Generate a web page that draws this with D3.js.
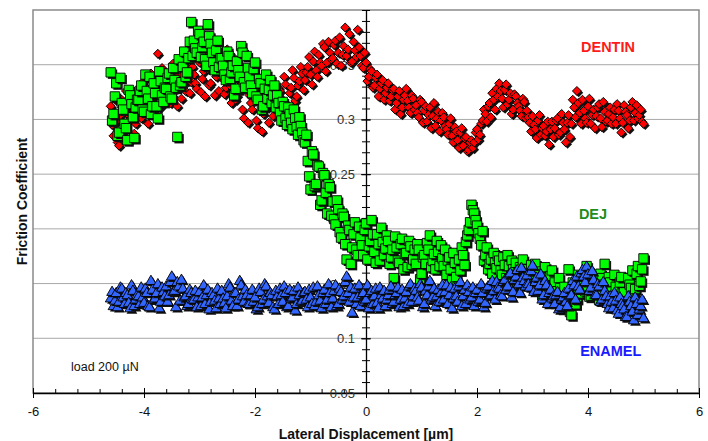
<!DOCTYPE html>
<html>
<head>
<meta charset="utf-8">
<script src="https://cdn.jsdelivr.net/npm/d3@7"></script>
<style>
  html, body { margin: 0; padding: 0; background: #fff; }
  svg { display: block; font-family: "Liberation Sans", Arial, sans-serif; }
</style>
</head>
<body>
<svg id="chart" width="708" height="441"></svg>
<script>
// ---------- data ----------
// scan A positions
const displacement = [
-4.60,-4.55,-4.50,-4.45,-4.40,-4.35,-4.30,-4.25,-4.20,-4.15,
-4.10,-4.05,-4.00,-3.95,-3.90,-3.85,-3.80,-3.75,-3.70,-3.65,
-3.60,-3.55,-3.50,-3.45,-3.40,-3.35,-3.30,-3.25,-3.20,-3.15,
-3.10,-3.05,-3.00,-2.95,-2.90,-2.85,-2.80,-2.75,-2.70,-2.65,
-2.60,-2.55,-2.50,-2.45,-2.40,-2.35,-2.30,-2.25,-2.20,-2.15,
-2.10,-2.05,-2.00,-1.95,-1.90,-1.85,-1.80,-1.75,-1.70,-1.65,
-1.60,-1.55,-1.50,-1.45,-1.40,-1.35,-1.30,-1.25,-1.20,-1.15,
-1.10,-1.05,-1.00,-0.95,-0.90,-0.85,-0.80,-0.75,-0.70,-0.65,
-0.60,-0.55,-0.50,-0.45,-0.40,-0.35,-0.30,-0.25,-0.20,-0.15,
-0.10,-0.05,0.00,0.05,0.10,0.15,0.20,0.25,0.30,0.35,
0.40,0.45,0.50,0.55,0.60,0.65,0.70,0.75,0.80,0.85,
0.90,0.95,1.00,1.05,1.10,1.15,1.20,1.25,1.30,1.35,
1.40,1.45,1.50,1.55,1.60,1.65,1.70,1.75,1.80,1.85,
1.90,1.95,2.00,2.05,2.10,2.15,2.20,2.25,2.30,2.35,
2.40,2.45,2.50,2.55,2.60,2.65,2.70,2.75,2.80,2.85,
2.90,2.95,3.00,3.05,3.10,3.15,3.20,3.25,3.30,3.35,
3.40,3.45,3.50,3.55,3.60,3.65,3.70,3.75,3.80,3.85,
3.90,3.95,4.00,4.05,4.10,4.15,4.20,4.25,4.30,4.35,
4.40,4.45,4.50,4.55,4.60,4.65,4.70,4.75,4.80,4.85,
4.90,4.95,5.00];

// scan B positions
const displacementB = [
-4.575,-4.525,-4.475,-4.425,-4.375,-4.325,-4.275,-4.225,-4.175,-4.125,
-4.075,-4.025,-3.975,-3.925,-3.875,-3.825,-3.775,-3.725,-3.675,-3.625,
-3.575,-3.525,-3.475,-3.425,-3.375,-3.325,-3.275,-3.225,-3.175,-3.125,
-3.075,-3.025,-2.975,-2.925,-2.875,-2.825,-2.775,-2.725,-2.675,-2.625,
-2.575,-2.525,-2.475,-2.425,-2.375,-2.325,-2.275,-2.225,-2.175,-2.125,
-2.075,-2.025,-1.975,-1.925,-1.875,-1.825,-1.775,-1.725,-1.675,-1.625,
-1.575,-1.525,-1.475,-1.425,-1.375,-1.325,-1.275,-1.225,-1.175,-1.125,
-1.075,-1.025,-0.975,-0.925,-0.875,-0.825,-0.775,-0.725,-0.675,-0.625,
-0.575,-0.525,-0.475,-0.425,-0.375,-0.325,-0.275,-0.225,-0.175,-0.125,
-0.075,-0.025,0.025,0.075,0.125,0.175,0.225,0.275,0.325,0.375,
0.425,0.475,0.525,0.575,0.625,0.675,0.725,0.775,0.825,0.875,
0.925,0.975,1.025,1.075,1.125,1.175,1.225,1.275,1.325,1.375,
1.425,1.475,1.525,1.575,1.625,1.675,1.725,1.775,1.825,1.875,
1.925,1.975,2.025,2.075,2.125,2.175,2.225,2.275,2.325,2.375,
2.425,2.475,2.525,2.575,2.625,2.675,2.725,2.775,2.825,2.875,
2.925,2.975,3.025,3.075,3.125,3.175,3.225,3.275,3.325,3.375,
3.425,3.475,3.525,3.575,3.625,3.675,3.725,3.775,3.825,3.875,
3.925,3.975,4.025,4.075,4.125,4.175,4.225,4.275,4.325,4.375,
4.425,4.475,4.525,4.575,4.625,4.675,4.725,4.775,4.825,4.875,
4.925,4.975];

const dentin = [
0.312,0.285,0.298,0.276,0.318,0.292,0.305,0.281,0.309,0.296,
0.322,0.301,0.331,0.309,0.318,0.338,0.305,0.360,0.312,0.327,
0.318,0.336,0.322,0.344,0.312,0.331,0.349,0.326,0.365,0.334,
0.341,0.328,0.352,0.337,0.321,0.346,0.333,0.355,0.339,0.326,
0.338,0.323,0.364,0.331,0.345,0.318,0.336,0.327,0.301,0.334,
0.322,0.309,0.327,0.292,0.318,0.305,0.331,0.297,0.314,0.324,
0.311,0.326,0.318,0.332,0.308,0.329,0.338,0.321,0.335,0.342,
0.336,0.348,0.341,0.353,0.345,0.359,0.349,0.366,0.352,0.361,
0.356,0.372,0.361,0.349,0.367,0.358,0.378,0.353,0.363,0.382,
0.358,0.347,0.352,0.339,0.344,0.331,0.341,0.328,0.336,0.324,
0.333,0.321,0.328,0.315,0.326,0.311,0.322,0.317,0.306,0.319,
0.313,0.302,0.316,0.308,0.298,0.311,0.303,0.294,0.307,0.299,
0.302,0.291,0.296,0.285,0.293,0.281,0.288,0.276,0.284,0.272,
0.281,0.279,0.291,0.286,0.299,0.305,0.312,0.302,0.318,0.328,
0.333,0.319,0.327,0.314,0.324,0.309,0.321,0.312,0.303,0.316,
0.308,0.297,0.303,0.291,0.299,0.286,0.294,0.289,0.277,0.298,
0.292,0.301,0.288,0.297,0.279,0.304,0.296,0.311,0.326,0.306,
0.318,0.301,0.312,0.296,0.309,0.303,0.314,0.293,0.307,0.299,
0.311,0.302,0.296,0.308,0.288,0.313,0.304,0.299,0.316,0.306,
0.301,0.309,0.296];

const dentinB = [
0.295,0.318,0.279,0.304,0.289,0.326,0.299,0.314,0.287,0.321,
0.307,0.334,0.315,0.296,0.342,0.321,0.329,0.311,0.347,0.319,
0.339,0.315,0.351,0.328,0.341,0.319,0.357,0.335,0.324,0.348,
0.333,0.359,0.325,0.344,0.362,0.331,0.349,0.322,0.357,0.343,
0.352,0.329,0.343,0.315,0.356,0.322,0.347,0.309,0.338,0.297,
0.315,0.331,0.299,0.321,0.289,0.326,0.311,0.334,0.303,0.319,
0.329,0.305,0.339,0.314,0.324,0.345,0.317,0.331,0.348,0.327,
0.343,0.357,0.332,0.362,0.339,0.352,0.369,0.344,0.371,0.355,
0.368,0.351,0.375,0.359,0.384,0.364,0.352,0.371,0.357,0.366,
0.349,0.361,0.335,0.346,0.329,0.338,0.321,0.333,0.318,0.329,
0.317,0.327,0.309,0.321,0.305,0.318,0.328,0.311,0.322,0.309,
0.306,0.318,0.297,0.312,0.304,0.292,0.315,0.301,0.289,0.306,
0.294,0.286,0.301,0.279,0.289,0.274,0.292,0.283,0.271,0.279,
0.274,0.288,0.282,0.296,0.309,0.298,0.315,0.324,0.309,0.321,
0.326,0.311,0.332,0.318,0.305,0.323,0.315,0.308,0.319,0.301,
0.302,0.289,0.295,0.283,0.304,0.292,0.285,0.298,0.291,0.284,
0.299,0.286,0.305,0.291,0.297,0.284,0.318,0.302,0.315,0.296,
0.308,0.297,0.319,0.304,0.292,0.311,0.301,0.316,0.298,0.305,
0.296,0.309,0.314,0.301,0.297,0.307,0.292,0.311,0.299,0.313,
0.304,0.298];

const dej = [
0.343,0.305,0.333,0.288,0.315,0.296,0.281,0.322,0.302,0.311,
0.318,0.331,0.307,0.326,0.339,0.312,0.324,0.301,0.335,0.316,
0.328,0.342,0.319,0.336,0.284,0.331,0.348,0.339,0.356,0.389,
0.372,0.361,0.378,0.366,0.355,0.387,0.369,0.352,0.363,0.348,
0.356,0.341,0.362,0.337,0.349,0.328,0.345,0.367,0.334,0.358,
0.339,0.324,0.352,0.318,0.333,0.312,0.341,0.327,0.315,0.331,
0.322,0.306,0.316,0.301,0.311,0.297,0.309,0.293,0.302,0.288,
0.279,0.262,0.236,0.268,0.241,0.257,0.226,0.249,0.214,0.238,
0.225,0.204,0.218,0.192,0.211,0.172,0.199,0.183,0.206,0.176,
0.192,0.176,0.205,0.184,0.208,0.179,0.195,0.171,0.188,0.182,
0.189,0.174,0.155,0.183,0.169,0.191,0.177,0.165,0.184,0.172,
0.168,0.181,0.159,0.176,0.187,0.194,0.171,0.163,0.179,0.185,
0.166,0.158,0.174,0.153,0.169,0.147,0.162,0.176,0.188,0.199,
0.222,0.214,0.203,0.191,0.198,0.176,0.163,0.172,0.178,0.164,
0.171,0.158,0.167,0.176,0.154,0.163,0.169,0.151,0.161,0.157,
0.163,0.149,0.156,0.168,0.144,0.152,0.159,0.141,0.148,0.162,
0.151,0.138,0.146,0.133,0.129,0.163,0.121,0.142,0.136,0.148,
0.157,0.143,0.161,0.139,0.152,0.146,0.135,0.155,0.168,0.144,
0.151,0.138,0.147,0.131,0.156,0.142,0.134,0.149,0.162,0.145,
0.166,0.152,0.173];

const dejB = [
0.299,0.321,0.285,0.338,0.309,0.292,0.327,0.314,0.283,0.318,
0.326,0.309,0.341,0.319,0.305,0.333,0.312,0.344,0.322,0.329,
0.338,0.321,0.347,0.329,0.355,0.334,0.362,0.343,0.371,0.358,
0.365,0.381,0.357,0.371,0.349,0.376,0.361,0.345,0.372,0.356,
0.349,0.336,0.358,0.343,0.322,0.353,0.339,0.361,0.329,0.347,
0.331,0.346,0.321,0.337,0.309,0.328,0.319,0.336,0.322,0.311,
0.315,0.299,0.312,0.295,0.305,0.291,0.301,0.286,0.294,0.281,
0.286,0.248,0.271,0.239,0.258,0.222,0.251,0.233,0.241,0.212,
0.209,0.226,0.197,0.214,0.186,0.203,0.168,0.195,0.181,0.202,
0.185,0.199,0.172,0.189,0.195,0.169,0.186,0.201,0.176,0.194,
0.168,0.181,0.193,0.171,0.186,0.163,0.178,0.189,0.167,0.181,
0.186,0.154,0.174,0.168,0.181,0.165,0.177,0.189,0.166,0.173,
0.181,0.171,0.163,0.178,0.156,0.172,0.183,0.167,0.194,0.206,
0.217,0.208,0.196,0.185,0.171,0.183,0.168,0.159,0.169,0.175,
0.162,0.174,0.155,0.166,0.171,0.158,0.149,0.165,0.172,0.153,
0.158,0.167,0.145,0.161,0.153,0.139,0.165,0.151,0.157,0.146,
0.143,0.155,0.127,0.147,0.139,0.124,0.151,0.131,0.158,0.141,
0.149,0.166,0.138,0.155,0.147,0.141,0.159,0.149,0.137,0.156,
0.143,0.158,0.136,0.151,0.141,0.133,0.155,0.146,0.139,0.159,
0.148,0.163];

const enamel = [
0.136,0.129,0.141,0.133,0.145,0.131,0.139,0.127,0.143,0.135,
0.138,0.146,0.132,0.141,0.128,0.144,0.136,0.149,0.133,0.142,
0.147,0.139,0.156,0.143,0.151,0.134,0.145,0.138,0.131,0.141,
0.135,0.128,0.142,0.137,0.131,0.144,0.133,0.139,0.127,0.136,
0.143,0.132,0.138,0.146,0.129,0.141,0.135,0.148,0.133,0.139,
0.131,0.144,0.137,0.128,0.142,0.135,0.147,0.132,0.139,0.126,
0.138,0.145,0.133,0.141,0.129,0.136,0.143,0.131,0.139,0.134,
0.142,0.128,0.137,0.146,0.133,0.139,0.127,0.144,0.135,0.141,
0.136,0.148,0.131,0.142,0.138,0.156,0.133,0.123,0.145,0.137,
0.129,0.141,0.135,0.127,0.143,0.138,0.132,0.146,0.136,0.129,
0.139,0.147,0.133,0.141,0.128,0.144,0.136,0.131,0.149,0.138,
0.143,0.134,0.146,0.131,0.139,0.152,0.137,0.129,0.144,0.141,
0.135,0.148,0.139,0.127,0.145,0.133,0.151,0.138,0.131,0.142,
0.137,0.129,0.144,0.135,0.141,0.132,0.147,0.139,0.143,0.151,
0.145,0.138,0.153,0.147,0.159,0.142,0.156,0.149,0.164,0.152,
0.157,0.146,0.166,0.151,0.143,0.158,0.139,0.148,0.141,0.136,
0.131,0.142,0.128,0.137,0.133,0.145,0.139,0.148,0.156,0.144,
0.162,0.151,0.158,0.146,0.153,0.139,0.147,0.135,0.143,0.131,
0.138,0.127,0.134,0.122,0.131,0.126,0.119,0.133,0.124,0.137,
0.121,0.129,0.118];

const enamelB = [
0.142,0.134,0.128,0.146,0.137,0.141,0.132,0.148,0.129,0.139,
0.131,0.137,0.145,0.129,0.152,0.135,0.141,0.127,0.146,0.138,
0.133,0.151,0.142,0.128,0.147,0.153,0.137,0.129,0.144,0.135,
0.143,0.137,0.129,0.148,0.139,0.126,0.141,0.134,0.145,0.131,
0.136,0.127,0.149,0.134,0.141,0.129,0.152,0.138,0.144,0.131,
0.139,0.133,0.126,0.145,0.131,0.149,0.138,0.141,0.128,0.143,
0.131,0.139,0.147,0.128,0.144,0.137,0.125,0.146,0.133,0.141,
0.135,0.144,0.131,0.129,0.147,0.134,0.141,0.131,0.149,0.128,
0.143,0.129,0.145,0.135,0.151,0.141,0.146,0.137,0.131,0.148,
0.139,0.133,0.148,0.141,0.131,0.145,0.127,0.139,0.143,0.135,
0.144,0.131,0.139,0.146,0.135,0.129,0.142,0.147,0.133,0.145,
0.137,0.149,0.128,0.143,0.147,0.135,0.145,0.138,0.133,0.148,
0.142,0.131,0.146,0.136,0.138,0.147,0.129,0.144,0.148,0.135,
0.146,0.141,0.133,0.149,0.128,0.145,0.138,0.152,0.135,0.146,
0.139,0.151,0.144,0.158,0.137,0.153,0.162,0.141,0.155,0.147,
0.149,0.161,0.142,0.155,0.148,0.135,0.152,0.131,0.144,0.138,
0.139,0.126,0.135,0.141,0.129,0.138,0.152,0.135,0.147,0.159,
0.156,0.165,0.143,0.161,0.139,0.149,0.133,0.151,0.138,0.127,
0.133,0.141,0.125,0.137,0.129,0.119,0.138,0.129,0.116,0.131,
0.126,0.135];

const xMajorTicks = [-6,-4,-2,0,2,4,6];
const yMajorTicks = [0.05,0.1,0.15,0.2,0.25,0.3,0.35];
const gridValues = [0.1,0.15,0.2,0.25,0.3,0.35];

const seriesNames = ["DENTIN","DEJ","ENAMEL"];
const seriesColors = ["#ff0000","#00ff00","#3366ff"];
const labelColors = ["#ff1a1a","#1e8c1e","#1a1aff"];
const labelPositions = [[4.36,0.366],[4.09,0.2135],[4.41,0.0885]]; // data coords of series labels

// ---------- layout ----------
const svg = d3.select("#chart");
const L = 33, R = 699, T = 10, B = 393;
const x = d3.scaleLinear().domain([-6, 6]).range([L, R]);
const y = d3.scaleLinear().domain([0.05, 0.40]).range([B, T]);

// gridlines
svg.append("g").selectAll("line").data(gridValues).join("line")
  .attr("x1", L).attr("x2", R)
  .attr("y1", d => y(d)).attr("y2", d => y(d))
  .attr("stroke", "#a8a8a8").attr("stroke-width", 1);

// frame
svg.append("rect").attr("x", L).attr("y", T).attr("width", R - L).attr("height", B - T)
  .attr("fill", "none").attr("stroke", "#8a8a8a").attr("stroke-width", 1.5);

// x axis minor ticks
const xMinor = d3.range(-6, 6.0001, 0.4).map(v => +v.toFixed(2));
const xMinorAxis = svg.append("g").attr("transform", `translate(0,${B})`)
  .call(d3.axisBottom(x).tickValues(xMinor).tickFormat("").tickSizeOuter(0));
xMinorAxis.select(".domain").remove();
xMinorAxis.selectAll(".tick line").attr("y1", 0).attr("y2", -4).attr("stroke", "#000");

// x axis major
const xAxis = svg.append("g").attr("transform", `translate(0,${B})`)
  .call(d3.axisBottom(x).tickValues(xMajorTicks).tickFormat(d => String(d)).tickSizeOuter(0));
xAxis.select(".domain").attr("stroke", "#000").attr("stroke-width", 1.3);
xAxis.selectAll(".tick line").attr("y1", -5).attr("y2", 5).attr("stroke", "#000");
xAxis.selectAll(".tick text").attr("y", 18).attr("dy", "0.35em")
  .attr("font-size", 13).attr("fill", "#111").attr("font-family", "Liberation Sans, Arial, sans-serif");

// y axis (at x = 0) minor ticks
const yMinor = d3.range(0.05, 0.4001, 0.01).map(v => +v.toFixed(2));
const yMinorAxis = svg.append("g").attr("transform", `translate(${x(0)},0)`)
  .call(d3.axisLeft(y).tickValues(yMinor).tickFormat("").tickSizeOuter(0));
yMinorAxis.select(".domain").remove();
yMinorAxis.selectAll(".tick line").attr("x1", -4).attr("x2", 4).attr("stroke", "#000");

const yAxis = svg.append("g").attr("transform", `translate(${x(0)},0)`)
  .call(d3.axisLeft(y).tickValues(yMajorTicks).tickFormat(d => String(d)).tickSizeOuter(0));
yAxis.select(".domain").attr("stroke", "#000").attr("stroke-width", 1.3);
yAxis.selectAll(".tick line").attr("x1", -5).attr("x2", 5).attr("stroke", "#000");
yAxis.selectAll(".tick text").attr("x", -11).attr("dy", "0.35em")
  .attr("font-size", 13).attr("fill", "#333").attr("font-family", "Liberation Sans, Arial, sans-serif");

// ---------- markers ----------
const symbols = [
  d3.symbol().type(d3.symbolSquare).size(40),   // diamond (rotated square)
  d3.symbol().type(d3.symbolSquare).size(88),   // square
  d3.symbol().type(d3.symbolTriangle).size(50)  // triangle
];
const rotations = [45, 0, 0];
const seriesA = [dentin, dej, enamel];
const seriesB = [dentinB, dejB, enamelB];

seriesA.forEach((valsA, s) => {
  const pts = valsA.map((v, i) => [displacement[i], v])
    .concat(seriesB[s].map((v, i) => [displacementB[i], v]))
    .sort((a, b) => a[0] - b[0]);
  const g = svg.append("g");
  const p = g.selectAll("g.pt").data(pts).join("g")
    .attr("class", "pt")
    .attr("transform", d => `translate(${x(d[0])},${y(d[1])})`);
  p.append("path").attr("d", symbols[s]())
    .attr("transform", `translate(1.8,1.8) rotate(${rotations[s]})`)
    .attr("fill", "#111");
  p.append("path").attr("d", symbols[s]())
    .attr("transform", `rotate(${rotations[s]})`)
    .attr("fill", seriesColors[s]).attr("stroke", "#000").attr("stroke-width", 0.9);
});

// ---------- labels ----------
svg.append("g").selectAll("text").data(seriesNames).join("text")
  .attr("x", (d, i) => x(labelPositions[i][0]))
  .attr("y", (d, i) => y(labelPositions[i][1]))
  .attr("dy", "0.35em")
  .attr("text-anchor", "middle")
  .attr("font-weight", "bold").attr("font-size", 14.5)
  .attr("fill", (d, i) => labelColors[i])
  .text(d => d);

svg.append("text").attr("x", 71).attr("y", 367).attr("dy", "0.35em")
  .attr("font-size", 12.5).attr("fill", "#111").text("load 200 µN");

svg.append("text").attr("x", (L + R) / 2).attr("y", 434).attr("dy", "0.35em")
  .attr("text-anchor", "middle").attr("font-weight", "bold").attr("font-size", 14)
  .attr("fill", "#111").text("Lateral Displacement [µm]");

svg.append("text").attr("transform", `translate(22,${(T + B) / 2}) rotate(-90)`)
  .attr("dy", "0.35em")
  .attr("text-anchor", "middle").attr("font-weight", "bold").attr("font-size", 14)
  .attr("fill", "#111").text("Friction Coefficient");
</script>
</body>
</html>
